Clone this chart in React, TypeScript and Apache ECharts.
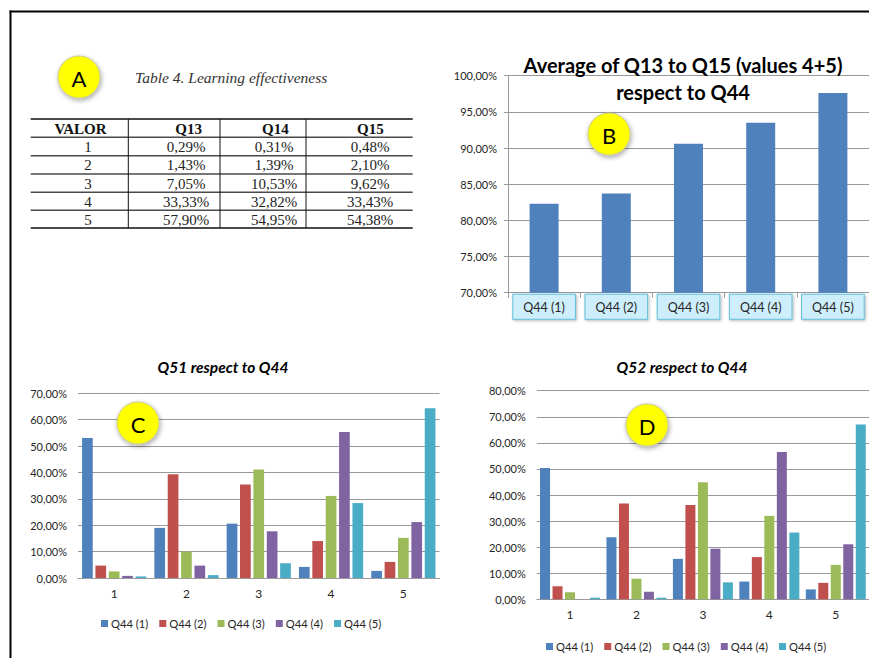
import React, { useEffect, useRef } from "react";
import * as echarts from "echarts";

// ---- Table A data ----
const tableHeader = ["VALOR", "Q13", "Q14", "Q15"];
const tableValor = ["1", "2", "3", "4", "5"];
const tableQ13 = [0.29, 1.43, 7.05, 33.33, 57.9];
const tableQ14 = [0.31, 1.39, 10.53, 32.82, 54.95];
const tableQ15 = [0.48, 2.1, 9.62, 33.43, 54.38];

// ---- Chart B data ----
const bCategories = ["Q44 (1)", "Q44 (2)", "Q44 (3)", "Q44 (4)", "Q44 (5)"];
const bValues = [82.3, 83.7, 90.6, 93.5, 97.6];
const bTicks = [70, 75, 80, 85, 90, 95, 100];

// ---- Chart C data (Q51) ----
const answerCategories = ["1", "2", "3", "4", "5"];
const seriesNames = ["Q44 (1)", "Q44 (2)", "Q44 (3)", "Q44 (4)", "Q44 (5)"];
const q51Q44_1 = [53.1, 19.0, 20.6, 4.2, 2.7];
const q51Q44_2 = [4.7, 39.3, 35.4, 14.0, 6.1];
const q51Q44_3 = [2.5, 10.0, 41.1, 31.1, 15.2];
const q51Q44_4 = [0.8, 4.7, 17.7, 55.3, 21.2];
const q51Q44_5 = [0.6, 1.1, 5.6, 28.4, 64.3];

// ---- Chart D data (Q52) ----
const q52Q44_1 = [50.4, 23.8, 15.5, 6.8, 3.8];
const q52Q44_2 = [5.0, 36.7, 36.2, 16.2, 6.3];
const q52Q44_3 = [2.7, 7.9, 44.9, 32.0, 13.2];
const q52Q44_4 = [0, 2.9, 19.4, 56.5, 21.1];
const q52Q44_5 = [0.6, 0.6, 6.5, 25.6, 67.0];

const colors = ["#4F81BD", "#C0504D", "#9BBB59", "#8064A2", "#4BACC6"];

const fmtPct = (v: number) => v.toFixed(2).replace(".", ",") + "%";

const SANS = "Lato, 'Open Sans', sans-serif";
const SERIF = "'Liberation Serif', 'DejaVu Serif', serif";
const TXT = "#262626";
const GRID = "#999999";

export default function App() {
  const ref = useRef<HTMLDivElement>(null);

  useEffect(() => {
    document.body.style.margin = "0";
    if (!ref.current) return;
    const chart = echarts.init(ref.current, null, { renderer: "svg" });

    // ---- table graphics ----
    const tLeft = 30.7;
    const tRight = 412.7;
    const hLines = [119, 137.3, 155.7, 174, 192.3, 210.3, 228];
    const vLines = [128.3, 220, 306];
    const colCenters = [88, 186, 274, 370];
    const headerCenters = [80.5, 188.7, 275.3, 370.3];
    const graphics: any[] = [];

    // frame
    graphics.push({
      type: "line",
      shape: { x1: 9.5, y1: 11.5, x2: 869, y2: 11.5 },
      style: { stroke: "#000", lineWidth: 2 },
    });
    graphics.push({
      type: "line",
      shape: { x1: 10.5, y1: 10.5, x2: 10.5, y2: 658 },
      style: { stroke: "#000", lineWidth: 2 },
    });

    graphics.push({
      type: "text",
      x: 135,
      y: 77,
      style: {
        text: "Table 4. Learning effectiveness",
        font: "italic 15.5px " + SERIF,
        fill: "#333",
        textAlign: "left",
        textVerticalAlign: "middle",
      },
    });

    hLines.forEach((y, i) => {
      graphics.push({
        type: "line",
        shape: { x1: tLeft, y1: y, x2: tRight, y2: y },
        style: { stroke: "#4a4a4a", lineWidth: i === 0 || i === hLines.length - 1 ? 2 : 1.6 },
      });
    });
    vLines.forEach((x) => {
      graphics.push({
        type: "line",
        shape: { x1: x, y1: hLines[0], x2: x, y2: hLines[hLines.length - 1] },
        style: { stroke: "#111", lineWidth: 1 },
      });
    });
    tableHeader.forEach((h, i) => {
      graphics.push({
        type: "text",
        x: headerCenters[i],
        y: (hLines[0] + hLines[1]) / 2 + 0.5,
        style: {
          text: h,
          font: "bold 15px " + SERIF,
          fill: "#111",
          textAlign: "center",
          textVerticalAlign: "middle",
        },
      });
    });
    tableValor.forEach((v, r) => {
      const y = (hLines[r + 1] + hLines[r + 2]) / 2 + 0.5;
      const cells = [v, fmtPct(tableQ13[r]), fmtPct(tableQ14[r]), fmtPct(tableQ15[r])];
      cells.forEach((c, i) => {
        graphics.push({
          type: "text",
          x: colCenters[i],
          y,
          style: {
            text: c,
            font: "15px " + SERIF,
            fill: "#222",
            textAlign: "center",
            textVerticalAlign: "middle",
          },
        });
      });
    });

    // chart titles
    const titles = [
      { t: "Average of Q13 to Q15 (values 4+5)", x: 683, y: 65, f: "bold 20px " + SANS },
      { t: "respect to Q44", x: 683, y: 92, f: "bold 20px " + SANS },
      { t: "Q51 respect to Q44", x: 223, y: 367, f: "italic bold 15.5px " + SANS },
      { t: "Q52 respect to Q44", x: 682, y: 367, f: "italic bold 15.5px " + SANS },
    ];
    titles.forEach((o) => {
      graphics.push({
        type: "text",
        x: o.x,
        y: o.y,
        z: 10,
        style: { text: o.t, font: o.f, fill: "#000", textAlign: "center", textVerticalAlign: "middle" },
      });
    });

    // yellow badges
    const badges = [
      { l: "A", x: 79, y: 77 },
      { l: "B", x: 609, y: 134 },
      { l: "C", x: 138, y: 423 },
      { l: "D", x: 647, y: 425 },
    ];
    badges.forEach((b) => {
      graphics.push({
        type: "circle",
        z: 20,
        shape: { cx: b.x, cy: b.y, r: 21 },
        style: {
          fill: "#ffff00",
          stroke: "#c9c98f",
          lineWidth: 1,
          shadowBlur: 5,
          shadowColor: "rgba(0,0,0,0.35)",
          shadowOffsetX: 1,
          shadowOffsetY: 2,
        },
      });
      graphics.push({
        type: "text",
        z: 21,
        x: b.x,
        y: b.y + 1,
        style: {
          text: b.l,
          font: "22px " + SANS,
          fill: "#000",
          textAlign: "center",
          textVerticalAlign: "middle",
        },
      });
    });

    const valueAxisCommon = (gridIndex: number, min: number, max: number, interval: number) => ({
      type: "value",
      gridIndex,
      min,
      max,
      interval,
      axisLine: { show: false },
      axisTick: { show: false },
      splitLine: { show: true, lineStyle: { color: GRID, width: 1 } },
      axisLabel: {
        formatter: (v: number) => fmtPct(v),
        color: TXT,
        fontFamily: SANS,
        fontSize: 11,
        margin: 11,
      },
    });

    const catAxisCommon = (gridIndex: number) => ({
      type: "category",
      gridIndex,
      data: answerCategories,
      axisLine: { show: true, lineStyle: { color: GRID, width: 1 } },
      axisTick: { show: false },
      axisLabel: { color: TXT, fontFamily: SANS, fontSize: 12, margin: 9 },
    });

    const cData = [q51Q44_1, q51Q44_2, q51Q44_3, q51Q44_4, q51Q44_5];
    const dData = [q52Q44_1, q52Q44_2, q52Q44_3, q52Q44_4, q52Q44_5];

    const series: any[] = [
      {
        type: "bar",
        name: "Average",
        xAxisIndex: 0,
        yAxisIndex: 0,
        data: bValues,
        barWidth: 29,
        itemStyle: { color: colors[0] },
      },
    ];
    seriesNames.forEach((n, i) => {
      series.push({
        type: "bar",
        name: n,
        xAxisIndex: 1,
        yAxisIndex: 1,
        data: cData[i],
        barWidth: 10.7,
        barGap: "25%",
        itemStyle: { color: colors[i] },
      });
    });
    seriesNames.forEach((n, i) => {
      series.push({
        type: "bar",
        name: n,
        xAxisIndex: 2,
        yAxisIndex: 2,
        data: dData[i],
        barWidth: 10,
        barGap: "25%",
        itemStyle: { color: colors[i] },
      });
    });

    const legendCommon = {
      data: seriesNames,
      orient: "horizontal",
      itemWidth: 7,
      itemHeight: 7,
      itemGap: 11,
      icon: "rect",
      textStyle: { color: TXT, fontFamily: SANS, fontSize: 11.2, padding: [0, 0, 0, -2] },
      selectedMode: false,
    };

    chart.setOption({
      animation: false,
      textStyle: { fontFamily: SANS },
      grid: [
        { left: 508, top: 75.7, width: 361, height: 217 },
        { left: 78, top: 393.3, width: 361.5, height: 184.7 },
        { left: 536.8, top: 390.7, width: 332.2, height: 208.6 },
      ],
      xAxis: [
        {
          type: "category",
          gridIndex: 0,
          data: bCategories,
          axisLine: { show: true, lineStyle: { color: GRID } },
          axisTick: { show: true, length: 5, lineStyle: { color: GRID } },
          axisLabel: {
            color: TXT,
            fontFamily: SANS,
            fontSize: 12.5,
            margin: 2,
            padding: [6, 10, 5, 10],
            backgroundColor: "#cdeefa",
            borderColor: "#62bfdd",
            borderWidth: 1,
            shadowBlur: 3,
            shadowColor: "rgba(0,0,0,0.3)",
            shadowOffsetX: 1,
            shadowOffsetY: 1,
          },
        },
        catAxisCommon(1),
        catAxisCommon(2),
      ],
      yAxis: [
        {
          ...valueAxisCommon(0, bTicks[0], bTicks[bTicks.length - 1], 5),
          axisLine: { show: true, lineStyle: { color: GRID } },
          axisTick: { show: true, length: 4, lineStyle: { color: GRID } },
        },
        valueAxisCommon(1, 0, 70, 10),
        valueAxisCommon(2, 0, 80, 10),
      ],
      legend: [
        { ...legendCommon, left: 96, top: 613 },
        { ...legendCommon, left: 541, top: 636 },
      ],
      series,
      graphic: graphics,
    });

    return () => chart.dispose();
  }, []);

  return (
    <div
      ref={ref}
      style={{ position: "absolute", left: 0, top: 0, width: 869, height: 658, background: "#fff" }}
    />
  );
}
